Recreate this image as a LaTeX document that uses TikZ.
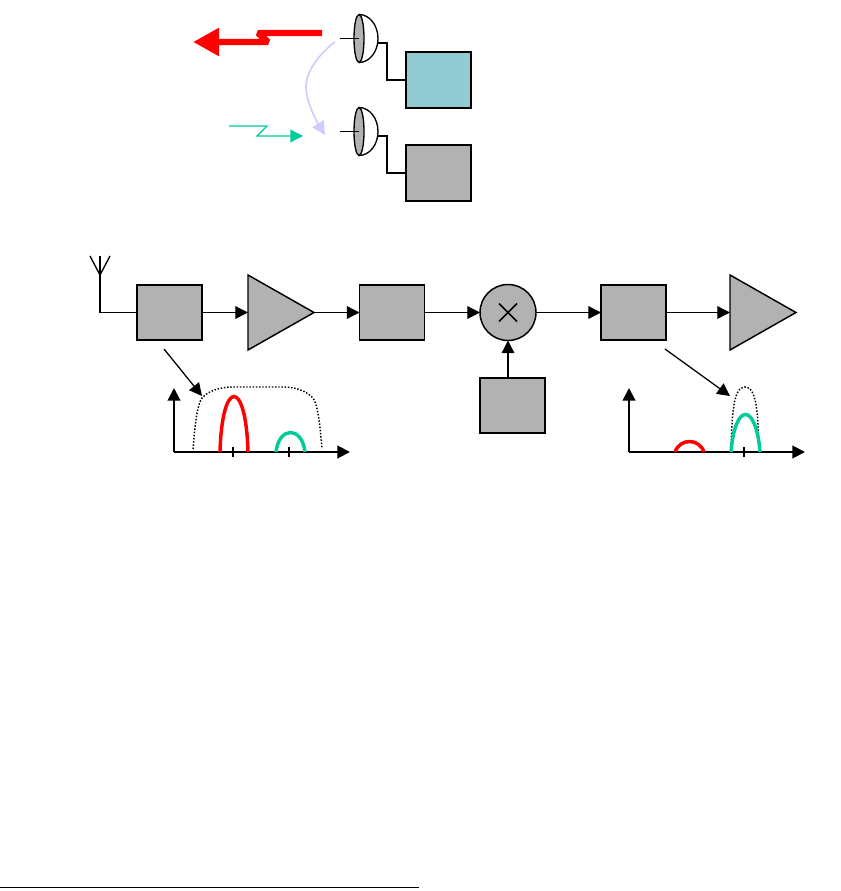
\documentclass[tikz,border=0pt]{standalone}
\usepackage{tikz}
\usetikzlibrary{arrows.meta,shapes.geometric}
\definecolor{blockgray}{HTML}{B2B2B2}
\definecolor{blockteal}{HTML}{92CBD2}
\definecolor{wantgreen}{HTML}{00CC99}
\definecolor{leaklilac}{HTML}{CCCCFF}
\tikzset{
  block/.style={draw, line width=1.3pt, fill=blockgray, minimum width=48.75pt, minimum height=41.5pt, inner sep=0pt, outer sep=0pt},
  amp/.style={draw, line width=1.1pt, fill=blockgray, isosceles triangle, isosceles triangle stretches, shape border rotate=0, minimum width=56.25pt, minimum height=49.5pt, inner sep=0pt, outer sep=0pt, anchor=lower side},
  dish/.style={draw, line width=1pt, fill=blockgray, ellipse, minimum width=7.5pt, minimum height=36pt, inner sep=0pt, outer sep=0pt},
  link/.style={line width=0.95pt, -{Triangle[length=9.5pt,width=9.5pt]}},
  wire/.style={line width=1pt},
  axis/.style={line width=1.5pt, -{Triangle[length=9.5pt,width=9.5pt]}},
  band/.style={line width=2.6pt},
  mask/.style={line width=1.1pt, dash pattern=on 1.1pt off 1.3pt},
}
\begin{document}
\begin{tikzpicture}[x=0.75pt,y=-0.75pt]
	\useasboundingbox (0,0) rectangle (841,891);
	% dishes on top
	\node[dish] (dishA) at (359,38.5) {};
	\node[dish] (dishB) at (359,131.5) {};
	\node[block, fill=blockteal] (boxA) at (438.5,80) {};
	\node[block] (boxB) at (438.5,173) {};
	\draw[wire] (dishA.north) arc (-90:90:19 and 24);
	\draw[wire] (dishB.north) arc (-90:90:19 and 24);
	\coordinate (feedA) at (340,38.5);
	\coordinate (feedB) at (340,131.5);
	\coordinate (backA) at (378,43);
	\coordinate (backB) at (378,136);
	\draw[wire] (feedA) -- (dishA.center);
	\draw[wire] (feedB) -- (dishB.center);
	\draw[wire] (backA) -- ++(9,0) |- (boxA.west);
	\draw[wire] (backB) -- ++(9,0) |- (boxB.west);
	% signals
	\draw[red, line width=4.8pt, -{Triangle[length=19.5pt,width=20pt]}, line join=bevel]
		(322,33) -- (258,33) -- (268,42) -- (193,42);
	\draw[wantgreen, line width=1pt, -{Triangle[length=9.5pt,width=9.5pt]}]
		(229,126) -- (267,126) -- (257,136) -- (303,136);
	\draw[leaklilac, line width=1.2pt, -{Triangle[length=10pt,width=10pt]}]
		(335,42) .. controls (318,55) and (306,72) .. (306,87) .. controls (306,102) and (317,122) .. (325,135);
	% receiver chain
	\node[block] (front) at (169.5,312.5) {};
	\node[amp] (lna) at (248,312.5) {};
	\node[block] (image) at (392,312.5) {};
	\node[circle, draw, line width=1.1pt, fill=blockgray, minimum size=42pt, inner sep=0pt, outer sep=0pt] (mix) at (508,312.5) {};
	\node[block] (channel) at (633.5,312.5) {};
	\node[amp] (ifamp) at (730,312.5) {};
	\node[block] (osc) at (512.5,405.5) {};
	\draw[line width=1.2pt] ([shift={(-9,-9)}]mix.center) -- ([shift={(9,9)}]mix.center);
	\draw[line width=1.2pt] ([shift={(-9,9)}]mix.center) -- ([shift={(9,-9)}]mix.center);
	\draw[link] (front) -- (lna.lower side);
	\draw[link] (lna.apex) -- (image);
	\draw[link] (image) -- (mix);
	\draw[link] (mix) -- (channel);
	\draw[link] (channel) -- (ifamp.lower side);
	\draw[link] (osc.north -| mix) -- (mix);
	% antenna
	\coordinate (aerial) at (100,275);
	\draw[wire] (front.west) -| (aerial) -- (100,256);
	\draw[wire] (90,256) -- (aerial) -- (110,256);
	% left spectrum
	\coordinate (originL) at (174,452);
	\draw[axis] (originL) -- (174,388);
	\draw[axis] (originL) -- (350,452);
	\draw[wire] (233,447) -- (233,457);
	\draw[wire] (289,447) -- (289,457);
	\draw[mask] (193,449) .. controls (195,425) and (197,405) .. (202,398) .. controls (208,391) and (220,387) .. (233,387) -- (283,387) .. controls (296,387) and (306,391) .. (313,398) .. controls (318,405) and (320,425) .. (322,449);
	\draw[band, red] (220,452) .. controls (222,378) and (246,378) .. (248,452);
	\draw[band, wantgreen] (276,452) .. controls (279,426) and (302,426) .. (305,452);
	% right spectrum
	\coordinate (originR) at (629,452);
	\draw[axis] (originR) -- (629,388);
	\draw[axis] (originR) -- (805,452);
	\draw[wire] (744,447) -- (744,457);
	\draw[mask] (731,450) .. controls (732,415) and (733,387) .. (745,387) .. controls (757,387) and (758,415) .. (759,450);
	\draw[band, red] (675,452) .. controls (680,438) and (699,438) .. (704,452);
	\draw[band, wantgreen] (731,452) .. controls (735,402) and (756,402) .. (760,452);
	% pointers
	\coordinate (tipL) at (202,396);
	\coordinate (tipR) at (730,396);
	\draw[link] (164,349) -- (tipL);
	\draw[link] (665,349) -- (tipR);
	% foot rule
	\draw[line width=0.75pt] (0,887) -- (419,887);
\end{tikzpicture}
\end{document}
